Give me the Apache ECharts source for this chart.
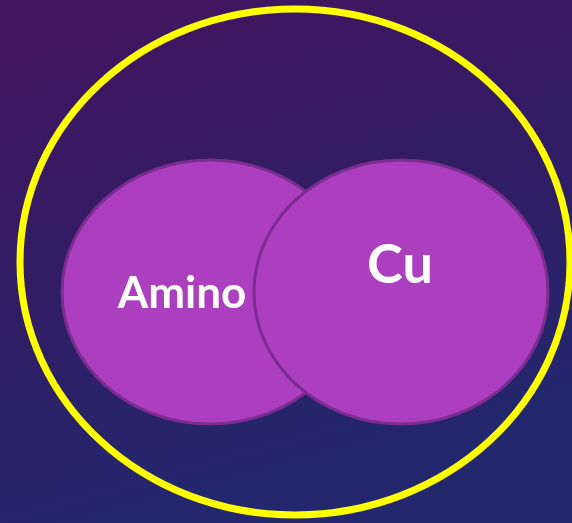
<!DOCTYPE html>
<html>
<head>
<meta charset="utf-8">
<script src="https://cdn.jsdelivr.net/npm/echarts@6/dist/echarts.min.js"></script>
<style>
  html, body { margin: 0; padding: 0; }
  #main { width: 572px; height: 523px; }
</style>
</head>
<body>
<div id="main"></div>
<script>
// sets in the diagram (plot units, y grows downward)
const setNames = ['Amino', 'Cu'];
const setCenterX = [210, 401];
const setCenterY = [292, 292];
const setRadiusX = [148, 147];
const setRadiusY = [132, 132];
const labelX = [182, 400];
const labelY = [294, 266];
const labelSize = [44, 54];

// the enclosing universe ellipse
const universe = [295, 262, 275, 253];

const chart = echarts.init(document.getElementById('main'));

const setData = setNames.map(function (n, i) {
  return {
    name: n,
    value: [setCenterX[i], setCenterY[i], setRadiusX[i], setRadiusY[i], labelX[i], labelY[i], labelSize[i]]
  };
});

function renderSet(params, api) {
  const c = api.coord([api.value(0), api.value(1)]);
  const r = api.size([api.value(2), api.value(3)]);
  const t = api.coord([api.value(4), api.value(5)]);
  return {
    type: 'group',
    children: [{
      type: 'ellipse',
      shape: { cx: c[0], cy: c[1], rx: r[0], ry: r[1] },
      style: { fill: '#ac3fbf', stroke: '#7a2c8f', lineWidth: 3 }
    }, {
      type: 'text',
      x: t[0],
      y: t[1],
      style: {
        text: setNames[params.dataIndex],
        fill: '#ffffff',
        font: 'bold ' + api.value(6) + 'px Lato, "Noto Sans", sans-serif',
        align: 'center',
        verticalAlign: 'middle'
      }
    }]
  };
}

function renderUniverse(params, api) {
  const c = api.coord([api.value(0), api.value(1)]);
  const r = api.size([api.value(2), api.value(3)]);
  return {
    type: 'ellipse',
    shape: { cx: c[0], cy: c[1], rx: r[0], ry: r[1] },
    style: { fill: 'none', stroke: '#ffff00', lineWidth: 7 }
  };
}

var option = {
  backgroundColor: {
    type: 'linear',
    x: 0, y: 0, x2: 0.25, y2: 1,
    colorStops: [
      { offset: 0, color: '#44145f' },
      { offset: 0.5, color: '#321c64' },
      { offset: 1, color: '#22276e' }
    ]
  },
  animation: false,
  grid: { left: 0, right: 0, top: 0, bottom: 0 },
  xAxis: { type: 'value', min: 0, max: 572, show: false },
  yAxis: { type: 'value', min: 0, max: 523, inverse: true, show: false },
  series: [{
    type: 'custom',
    name: 'universe',
    renderItem: renderUniverse,
    data: [universe],
    silent: true
  }, {
    type: 'custom',
    name: 'sets',
    renderItem: renderSet,
    data: setData,
    silent: true
  }]
};

chart.setOption(option, true);
</script>
</body>
</html>
